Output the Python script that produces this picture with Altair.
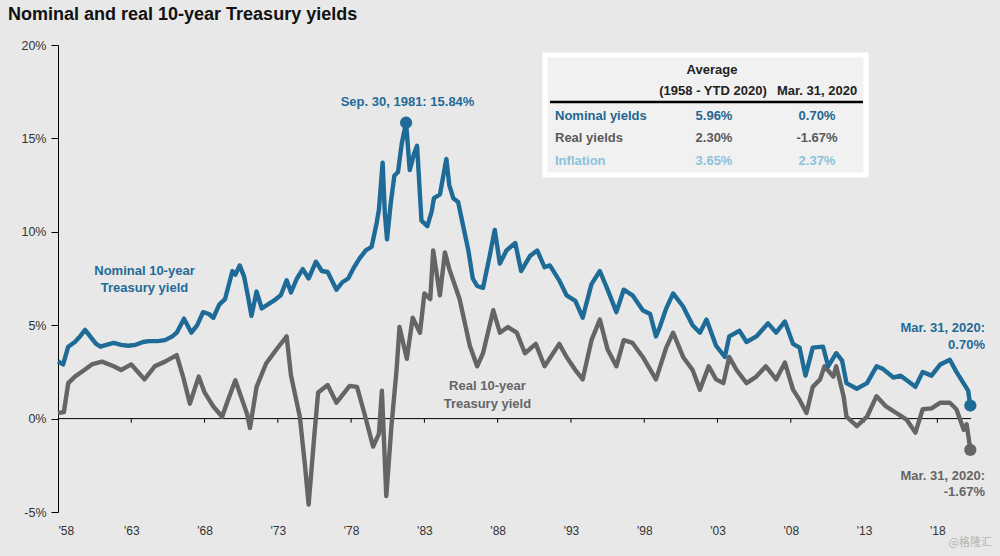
import altair as alt
import pandas as pd

# ---------------- data ----------------
nominal_years = [1958.0, 1958.35, 1958.7, 1959.15, 1959.5, 1959.85, 1960.3, 1960.6, 1960.9, 1961.3,
                 1961.8, 1962.3, 1962.8, 1963.3, 1963.8, 1964.2, 1964.8, 1965.3, 1965.8, 1966.1,
                 1966.6, 1967.1, 1967.5, 1967.9, 1968.3, 1968.6, 1969.0, 1969.4, 1969.9, 1970.1,
                 1970.4, 1970.7, 1970.95, 1971.2, 1971.55, 1971.9, 1972.3, 1972.7, 1973.2, 1973.6,
                 1973.9, 1974.3, 1974.7, 1975.1, 1975.6, 1976.0, 1976.4, 1977.0, 1977.4, 1977.8,
                 1978.2, 1978.6, 1979.0, 1979.4, 1979.75, 1979.9, 1980.15, 1980.3, 1980.45, 1980.7,
                 1980.95, 1981.2, 1981.45, 1981.75, 1982.0, 1982.3, 1982.5, 1982.8, 1983.2, 1983.5,
                 1983.65, 1984.06, 1984.5, 1984.7, 1984.97, 1985.3, 1985.65, 1986.0, 1986.3, 1986.6,
                 1987.0, 1987.4, 1987.8, 1988.15, 1988.6, 1989.2, 1989.6, 1990.2, 1990.7, 1991.2,
                 1991.56, 1992.2, 1992.7, 1993.3, 1993.8, 1994.4, 1994.97, 1995.5, 1996.1, 1996.6,
                 1997.2, 1997.9, 1998.4, 1998.8, 1999.06, 1999.5, 1999.97, 2000.65, 2001.3, 2001.8,
                 2002.25, 2002.9, 2003.5, 2003.8, 2004.5, 2004.98, 2005.65, 2006.45, 2007.0, 2007.6,
                 2008.15, 2008.6, 2009.0, 2009.5, 2010.2, 2010.55, 2011.1, 2011.5, 2011.8, 2012.5,
                 2013.2, 2013.85, 2014.3, 2015.0, 2015.5, 2016.5, 2017.0, 2017.6, 2018.2, 2018.85,
                 2019.3, 2019.9, 2020.1, 2020.25]
nominal_values = [3.06, 2.9, 3.85, 4.1, 4.4, 4.75, 4.3, 4.0, 3.85, 3.95,
                  4.05, 3.95, 3.9, 3.95, 4.1, 4.15, 4.15, 4.2, 4.4, 4.6,
                  5.35, 4.6, 5.0, 5.7, 5.6, 5.4, 6.1, 6.4, 7.9, 7.7,
                  8.2, 7.6, 6.6, 5.5, 6.8, 5.9, 6.1, 6.3, 6.6, 7.4,
                  6.75, 7.5, 8.0, 7.5, 8.4, 7.9, 7.85, 6.9, 7.3, 7.5,
                  8.1, 8.6, 9.0, 9.2, 10.5, 11.2, 13.7, 11.0, 9.6, 11.5,
                  13.0, 13.2, 14.7, 15.84, 13.3, 14.2, 14.6, 10.6, 10.3, 11.1,
                  11.8, 12.0, 13.9, 12.5, 11.8, 11.6, 10.3, 9.0, 7.5, 7.1,
                  7.0, 8.5, 10.1, 8.3, 9.0, 9.4, 7.9, 8.7, 9.0, 8.1,
                  8.2, 7.4, 6.6, 6.3, 5.4, 7.2, 7.9, 6.9, 5.7, 6.9,
                  6.6, 5.8, 5.6, 4.4, 4.9, 5.9, 6.7, 6.0, 5.0, 4.6,
                  5.3, 3.9, 3.3, 4.4, 4.7, 4.1, 4.4, 5.1, 4.6, 5.2,
                  4.0, 3.8, 2.3, 3.8, 3.85, 2.8, 3.5, 3.1, 1.9, 1.6,
                  1.9, 2.8, 2.65, 2.2, 2.3, 1.7, 2.5, 2.3, 2.9, 3.15,
                  2.5, 1.75, 1.5, 0.70]

real_years = [1958.0, 1958.4, 1958.7, 1959.15, 1959.8, 1960.3, 1961.0, 1961.8, 1962.3, 1963.0,
              1963.9, 1964.6, 1965.3, 1966.1, 1966.55, 1967.0, 1967.6, 1968.0, 1968.6, 1969.2,
              1969.6, 1970.1, 1970.5, 1970.9, 1971.1, 1971.55, 1972.2, 1972.9, 1973.6, 1973.9,
              1974.5, 1974.85, 1975.1, 1975.5, 1975.75, 1976.4, 1977.0, 1977.9, 1978.4, 1978.9,
              1979.5, 1979.9, 1980.1, 1980.4, 1980.75, 1981.1, 1981.3, 1981.8, 1982.2, 1982.7,
              1983.0, 1983.4, 1983.6, 1984.06, 1984.4, 1984.7, 1985.4, 1986.1, 1986.6, 1987.0,
              1987.7, 1988.15, 1988.7, 1989.3, 1989.86, 1990.6, 1991.2, 1992.2, 1992.7, 1993.3,
              1993.8, 1994.4, 1994.97, 1995.5, 1996.1, 1996.6, 1997.2, 1997.9, 1998.8, 1999.5,
              1999.97, 2000.65, 2001.3, 2001.8, 2002.4, 2002.9, 2003.4, 2003.8, 2004.3, 2004.98,
              2005.65, 2006.3, 2007.0, 2007.6, 2008.15, 2008.6, 2009.07, 2009.5, 2010.0, 2010.3,
              2010.9, 2011.1, 2011.6, 2011.8, 2012.3, 2012.5, 2013.2, 2013.85, 2014.5, 2015.2,
              2015.9, 2016.5, 2017.0, 2017.6, 2018.2, 2018.85, 2019.3, 2019.8, 2020.0, 2020.25]
real_values = [0.3, 0.35, 1.9, 2.25, 2.6, 2.9, 3.05, 2.8, 2.6, 2.9,
               2.1, 2.8, 3.05, 3.4, 2.2, 0.8, 2.25, 1.4, 0.65, 0.1,
               1.0, 2.05, 1.15, 0.25, -0.5, 1.7, 2.95, 3.7, 4.4, 2.3,
               0.1, -2.5, -4.6, -0.8, 1.4, 1.8, 0.85, 1.75, 1.7, 0.3,
               -1.5, -0.8, 1.5, -4.15, -0.4, 2.6, 4.9, 3.2, 5.4, 4.6,
               6.7, 6.4, 9.0, 6.6, 8.9, 8.0, 6.4, 3.9, 2.8, 3.5,
               5.8, 4.6, 4.9, 4.6, 3.5, 4.0, 2.8, 4.0, 3.3, 2.6,
               2.1, 4.2, 5.3, 3.7, 2.8, 4.2, 4.05, 3.3, 2.1, 3.8,
               4.6, 3.3, 2.6, 1.55, 2.8, 2.1, 1.9, 3.3, 2.6, 1.9,
               2.25, 2.8, 2.1, 3.0, 1.55, 1.0, 0.3, 1.7, 2.1, 2.8,
               2.25, 2.8, 1.2, 0.1, -0.25, -0.4, 0.1, 1.2, 0.65, 0.3,
               -0.05, -0.75, 0.5, 0.55, 0.85, 0.85, 0.5, -0.6, -0.3, -1.67]

tick_years = [1958, 1963, 1968, 1973, 1978, 1983, 1988, 1993, 1998, 2003, 2008, 2013, 2018]
y_ticks = [-5, 0, 5, 10, 15, 20]

# highlighted points
dot_labels = ["Sep. 30, 1981", "Mar. 31, 2020", "Mar. 31, 2020"]
dot_years = [1981.75, 2020.25, 2020.25]
dot_values = [15.84, 0.70, -1.67]
dot_series = ["Nominal", "Nominal", "Real"]

# summary table
table_rows = ["Nominal yields", "Real yields", "Inflation"]
table_avg = ["5.96%", "2.30%", "3.65%"]
table_latest = ["0.70%", "-1.67%", "2.37%"]

# ---------------- styling ----------------
BLUE = "#1f6b97"
GRAY = "#656565"
LIGHTBLUE = "#8cc1db"
FONT = "Liberation Sans"
BG = "#e8e8e8"
row_colors = ["#23668f", "#5a5a5a", LIGHTBLUE]

W, H = 916, 467
X0 = 1958
X1 = 2020.5

xscale = alt.Scale(domain=[X0, X1], nice=False, zero=False)
yscale = alt.Scale(domain=[-5, 20], nice=False)

nom_df = pd.DataFrame({"year": nominal_years, "value": nominal_values})
real_df = pd.DataFrame({"year": real_years, "value": real_values})

xenc = alt.X("year:Q", scale=xscale,
             axis=alt.Axis(values=tick_years, labelExpr="\"'\" + substring(toString(datum.value), 2)",
                           ticks=False, domain=False, grid=False, labelPadding=13,
                           labelFont=FONT, labelFontSize=12, labelColor="#333333", title=None))
yenc = alt.Y("value:Q", scale=yscale,
             axis=alt.Axis(values=y_ticks, labelExpr="datum.value + '%'", grid=False,
                           domainColor="#000000", tickColor="#000000", tickSize=7,
                           labelFont=FONT, labelFontSize=12.5, labelColor="#333333",
                           labelPadding=5, title=None))

zero_df = pd.DataFrame({"x": [X0], "x2": [2020.3], "y": [0]})
zero_line = alt.Chart(zero_df).mark_rule(color="#000000", strokeWidth=1).encode(
    x=alt.X("x:Q", scale=xscale), x2="x2:Q", y=alt.Y("y:Q", scale=yscale))

ticks_df = pd.DataFrame({"x": tick_years[1:], "y": [0] * (len(tick_years) - 1), "y2": [-0.22] * (len(tick_years) - 1)})
zero_ticks = alt.Chart(ticks_df).mark_rule(color="#000000", strokeWidth=1).encode(
    x=alt.X("x:Q", scale=xscale), y=alt.Y("y:Q", scale=yscale), y2="y2:Q")

real_line = alt.Chart(real_df).mark_line(color=GRAY, strokeWidth=4.4, strokeJoin="round").encode(
    x=xenc, y=yenc)
nom_line = alt.Chart(nom_df).mark_line(color=BLUE, strokeWidth=4.4, strokeJoin="round").encode(
    x=alt.X("year:Q", scale=xscale), y=alt.Y("value:Q", scale=yscale))

dots_df = pd.DataFrame({"year": dot_years, "value": dot_values, "series": dot_series, "label": dot_labels})
dots = alt.Chart(dots_df).mark_circle(size=150, opacity=1).encode(
    x=alt.X("year:Q", scale=xscale), y=alt.Y("value:Q", scale=yscale),
    color=alt.Color("series:N", scale=alt.Scale(domain=["Nominal", "Real"], range=[BLUE, GRAY]), legend=None))

# ---------------- annotations (data coordinates) ----------------
ann = pd.DataFrame({
    "text": ["Nominal 10-year", "Treasury yield", "Real 10-year", "Treasury yield",
             f"{dot_labels[0]}: {dot_values[0]:.2f}%"],
    "x": [1963.9, 1963.9, 1987.3, 1987.3, 1981.85],
    "y": [7.9, 7.0, 1.72, 0.77, 16.95],
    "c": ["Nominal", "Nominal", "Real", "Real", "Nominal"],
})
ann_text = alt.Chart(ann).mark_text(font=FONT, fontSize=13, fontWeight="bold", align="center",
                                    baseline="middle").encode(
    x=alt.X("x:Q", scale=xscale), y=alt.Y("y:Q", scale=yscale), text="text:N",
    color=alt.Color("c:N", scale=alt.Scale(domain=["Nominal", "Real"], range=[BLUE, GRAY]), legend=None))

end_ann = pd.DataFrame({
    "text": [dot_labels[1] + ":", f"{dot_values[1]:.2f}%", dot_labels[2] + ":", f"{dot_values[2]:.2f}%"],
    "x": [2021.25] * 4,
    "y": [4.87, 3.95, -3.05, -3.92],
    "c": ["Nominal", "Nominal", "Real", "Real"],
})
end_text = alt.Chart(end_ann).mark_text(font=FONT, fontSize=13, fontWeight="bold", align="right",
                                        baseline="middle").encode(
    x=alt.X("x:Q", scale=xscale), y=alt.Y("y:Q", scale=yscale), text="text:N",
    color=alt.Color("c:N", scale=alt.Scale(domain=["Nominal", "Real"], range=[BLUE, GRAY]), legend=None))

# ---------------- table (pixel placement relative to plot origin 58,45) ----------------
one = pd.DataFrame({"a": [0]})
layers = []
layers.append(alt.Chart(one).mark_rect(fill="#f1f1f1", stroke="#ffffff", strokeWidth=5).encode(
    x=alt.value(487), x2=alt.value(808), y=alt.value(10), y2=alt.value(130)))
layers.append(alt.Chart(one).mark_rule(color="#000000", strokeWidth=2.5).encode(
    x=alt.value(492), x2=alt.value(805), y=alt.value(57)))


def txt(s, x, y, color="#222222", align="center"):
    return alt.Chart(one).mark_text(text=s, font=FONT, fontSize=13, fontWeight="bold", align=align,
                                    baseline="middle", color=color).encode(
        x=alt.value(x), y=alt.value(y))


layers.append(txt("Average", 654, 25))
layers.append(txt("(1958 - YTD 2020)", 655, 46))
layers.append(txt("Mar. 31, 2020", 759, 46))
for i, r in enumerate(table_rows):
    yy = 71 + i * 22.3
    layers.append(txt(r, 497, yy, row_colors[i], "left"))
    layers.append(txt(table_avg[i], 656, yy, row_colors[i]))
    layers.append(txt(table_latest[i], 759, yy, row_colors[i]))

watermark = alt.Chart(one).mark_text(text="@格隆汇", font="Noto Sans CJK SC", fontSize=11,
                                     color="#b4b4b4", align="right", baseline="middle").encode(
    x=alt.value(934), y=alt.value(498))

chart = alt.layer(zero_line, zero_ticks, real_line, nom_line, dots, ann_text, end_text,
                  *layers, watermark).properties(
    width=W, height=H,
    title=alt.TitleParams("Nominal and real 10-year Treasury yields", anchor="start", frame="group",
                          dx=-50, offset=15, font=FONT, fontSize=18, fontWeight="bold",
                          color="#111111"),
    autosize=alt.AutoSizeParams(type="none"),
    padding={"left": 58, "top": 45, "right": 26, "bottom": 44},
).configure(background=BG).configure_view(stroke=None)

chart.save("out.html", embed_options={"renderer": "svg", "actions": False})
